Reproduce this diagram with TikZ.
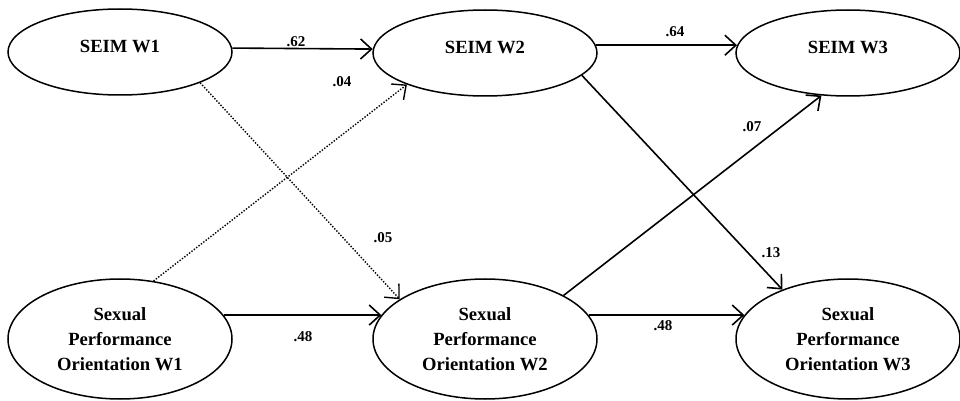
\documentclass[tikz,border=0pt]{standalone}
\usepackage{fontspec}
\setmainfont{Liberation Serif}
\usetikzlibrary{arrows.meta,shapes.geometric}

\tikzset{
  latent/.style={ellipse, draw, line width=.75pt, minimum width=112pt, inner sep=1pt,
    align=center, font=\fontsize{9.3}{12.4}\selectfont\bfseries},
  seim/.style={latent, minimum height=43pt, text depth=6pt},
  spo/.style={latent, minimum height=60pt},
  effect/.style={-{Straight Barb[length=5.5pt,width=10pt]}, line width=.8pt},
  weak/.style={effect, line width=.7pt, dash pattern=on .7pt off .8pt},
  coef/.style={font=\fontsize{7.5}{8}\selectfont\bfseries, inner sep=0pt}
}

\begin{document}
\begin{tikzpicture}[x=.5pt, y=-.5pt]
\useasboundingbox (0,0) rectangle (960,401);

% latent variables
\node[seim] (w1) at (120,52) {SEIM W1};
\node[seim] (w2) at (485,53) {SEIM W2};
\node[seim] (w3) at (848,53) {SEIM W3};

\node[spo] (s1) at (120,339) {Sexual\\Performance\\Orientation W1};
\node[spo] (s2) at (485,339) {Sexual\\Performance\\Orientation W2};
\node[spo] (s3) at (848,339) {Sexual\\Performance\\Orientation W3};

% stability paths
\draw[effect] (w1.2) -- (w2.178);
\draw[effect] (w2.4) -- (w3.176);
\draw[effect] (s1.13) -- (s2.167);
\draw[effect] (s2.13) -- (s3.167);

% cross-lagged paths
\draw[weak] (w1.-21) -- (s2.155);
\draw[weak] (s1.60) -- (w2.202);
\draw[effect] (w2.-13) -- (s3.143);
\draw[effect] (s2.29) -- (w3.238);

% coefficients
\node[coef] (c62) at (296,42) {.62};
\node[coef] (c64) at (675,32) {.64};
\node[coef] (c04) at (342,82) {.04};
\node[coef] (c05) at (383,238) {.05};
\node[coef] (c07) at (752,127) {.07};
\node[coef] (c13) at (771,253) {.13};
\node[coef] (c48a) at (303,337) {.48};
\node[coef] (c48b) at (663,326) {.48};
\end{tikzpicture}
\end{document}
